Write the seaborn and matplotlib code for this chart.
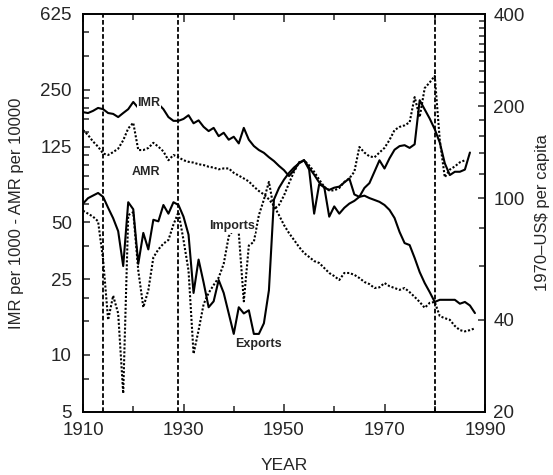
import matplotlib
matplotlib.use("Agg")
import matplotlib.pyplot as plt
import matplotlib.ticker as mticker
import numpy as np
import pandas as pd
import seaborn as sns

# ---------------- data ----------------
imr_years = list(range(1910, 1989))
imr = [190, 188, 193, 200, 197, 188, 186, 179, 188, 197,
       215, 200, 215, 210, 220, 210, 197, 179, 171, 171,
       175, 183, 166, 172, 159, 151, 157, 142, 148, 136,
       141, 130, 157, 136, 126, 120, 116, 110, 105, 99,
       94, 87.5, 94, 103, 106, 97, 89, 81, 76, 74,
       76, 77, 81, 85, 70, 68, 69, 67, 65.5, 64,
       61.6, 58, 52.6, 44.4, 38.8, 37.9, 32.4, 27.3, 23.9, 21.4,
       19, 19.5, 19.5, 19.5, 19.5, 18.6, 19, 18.2, 16.6]

amr_years = list(range(1910, 1989))
amr = [153, 144, 133, 125, 115, 113, 117, 122, 135, 156,
       167, 120, 120, 123, 131, 125, 118, 106, 113, 110,
       106, 104, 103, 101, 100, 98, 97, 95, 96, 96,
       91, 88, 85, 82, 77, 73, 70, 66, 61, 54.5,
       48.3, 43.8, 40.3, 37, 34.4, 32.8, 31.2, 30.5, 28.7, 27,
       26, 24.8, 27, 27, 26.4, 25.4, 24.2, 23.6, 22.5, 22.7,
       23.9, 23, 22.5, 22, 22.5, 21.4, 20.2, 19, 17.7, 18.8,
       19, 16, 15.6, 15.3, 14.2, 13.5, 13.3, 13.5, 13.8]

exp_years = list(range(1910, 1988))
exports = [96, 100, 102, 104, 101, 93, 86, 78, 60, 97,
           92, 61, 77, 68, 85, 84, 95, 89, 97, 95,
           87, 76, 49, 63, 53, 44, 46, 54, 49, 42,
           36, 44, 42, 43, 36, 36, 39, 50, 99, 108,
           115, 121, 126, 130, 133, 124, 89, 111, 109, 87,
           94, 89, 93, 96, 98, 101, 108, 112, 122, 133,
           125, 135, 144, 148, 149, 146, 150, 209, 195, 182,
           168, 152, 130, 119, 122, 122, 124, 141]

imp_years = list(range(1910, 1987))
imports = [91, 89, 87, 84, 63, 40, 48, 42, 23, 88,
           90, 58, 44, 50, 64, 68, 71, 73, 82, 90,
           73, 58, 31, 37, 45, 49, 52, 55, 61, 75,
           79, 77, 46, 70, 72, 88, 99, 113, 92, 95,
           102, 112, 122, 131, 133, 128, 122, 115, 109, 106,
           106, 108, 113, 116, 122, 147, 141, 137, 136, 141,
           146, 155, 167, 171, 173, 177, 214, 184, 229, 239,
           251, 155, 117, 124, 127, 131, 133]

event_years = [1914, 1929, 1980]

left_ticks = [5, 10, 25, 50, 125, 250, 625]
left_minor = [7.5, 15, 20, 37.5, 62.5, 75, 87.5, 100, 112.5, 150, 175, 200, 225, 375, 500]
right_ticks = [20, 40, 100, 200, 400]
right_minor = [v for v in range(60, 400, 20) if v not in (100, 200)]
x_major = [1910, 1930, 1950, 1970, 1990]
x_minor = [1920, 1940, 1960, 1980]

# ---------------- figure ----------------
sns.set_style("ticks")
plt.rcParams['font.family'] = ['Liberation Sans', 'DejaVu Sans']

W, H = 553, 475
fig = plt.figure(figsize=(W / 100, H / 100), dpi=100)
ax = fig.add_axes([83 / W, 1 - 412 / H, (485 - 83) / W, (412 - 14) / H])
ax2 = ax.twinx()

df_imr = pd.DataFrame({"year": imr_years, "v": imr})
df_amr = pd.DataFrame({"year": amr_years, "v": amr})
df_exp = pd.DataFrame({"year": exp_years, "v": exports})
df_imp = pd.DataFrame({"year": imp_years, "v": imports})

lw_solid = 1.5
lw_dot = 1.5
dot = (0, (1.0, 0.9))

sns.lineplot(data=df_imr, x="year", y="v", ax=ax, color="black", lw=lw_solid)
sns.lineplot(data=df_amr, x="year", y="v", ax=ax, color="black", lw=lw_dot, linestyle=dot)
sns.lineplot(data=df_exp, x="year", y="v", ax=ax2, color="black", lw=lw_solid)
sns.lineplot(data=df_imp, x="year", y="v", ax=ax2, color="black", lw=lw_dot, linestyle=dot)

for yr in event_years:
    ax.axvline(yr, color="black", lw=1.3, linestyle=(0, (2.6, 1.3)))

ax.set_xlim(1910, 1990)
ax.set_yscale("log")
ax.set_ylim(5, 625)
ax2.set_yscale("log")
ax2.set_ylim(20, 400)

# ticks
ax.set_xticks(x_major)
ax.set_xticks(x_minor, minor=True)
ax.set_xticklabels([str(v) for v in x_major])
ax.set_yticks(left_ticks)
ax.set_yticks(left_minor, minor=True)
ax.yaxis.set_major_formatter(mticker.FixedFormatter([str(v) for v in left_ticks]))
ax.yaxis.set_minor_formatter(mticker.NullFormatter())
ax2.set_yticks(right_ticks)
ax2.set_yticks(right_minor, minor=True)
ax2.yaxis.set_major_formatter(mticker.FixedFormatter([str(v) for v in right_ticks]))
ax2.yaxis.set_minor_formatter(mticker.NullFormatter())

fs_tick = 13.5
ax.tick_params(axis="x", which="major", direction="in", length=6, width=1.1,
               top=True, labelsize=fs_tick, pad=7)
ax.tick_params(axis="x", which="minor", direction="in", length=4, width=1.1, top=True)
ax.tick_params(axis="y", which="major", direction="in", length=5, width=1.1,
               right=False, labelsize=fs_tick, pad=8)
ax.tick_params(axis="y", which="minor", direction="in", length=4, width=1.1, right=False)
ax2.tick_params(axis="y", which="major", direction="in", length=5, width=1.1,
                left=False, labelsize=fs_tick, pad=6)
ax2.tick_params(axis="y", which="minor", direction="in", length=4, width=1.1, left=False)

for a in (ax, ax2):
    for s in a.spines.values():
        s.set_linewidth(1.2)
        s.set_color("black")
        s.set_visible(True)

ax.set_xlabel("YEAR", fontsize=12.5, labelpad=14)
ax.set_ylabel("IMR per 1000 - AMR per 10000", fontsize=12, labelpad=12)
ax2.set_ylabel("1970\u2013US$ per capita", fontsize=12, labelpad=7)

# series labels
bb = dict(facecolor="white", edgecolor="none", pad=0.3)
ax.text(1923.1, 212, "IMR", fontsize=9, fontweight="bold", ha="center", va="center", bbox=bb, zorder=5)
ax.text(1922.5, 92, "AMR", fontsize=9, fontweight="bold", ha="center", va="center", bbox=bb, zorder=5)
ax2.text(1939.6, 81, "Imports", fontsize=9, fontweight="bold", ha="center", va="center", bbox=bb, zorder=5)
ax2.text(1945.0, 33.4, "Exports", fontsize=9, fontweight="bold", ha="center", va="center", bbox=bb, zorder=5)

fig.savefig("out.png", dpi=100, facecolor="white")
